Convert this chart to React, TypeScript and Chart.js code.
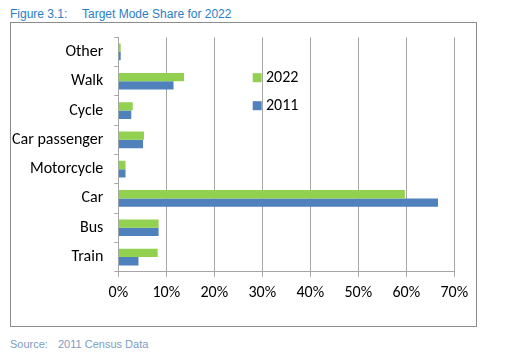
import React, { useEffect, useRef } from "react";
import { Chart, registerables } from "chart.js";

Chart.register(...registerables);

const categories = ["Other", "Walk", "Cycle", "Car passenger", "Motorcycle", "Car", "Bus", "Train"];
const share2022 = [0.5, 13.7, 3.0, 5.35, 1.5, 59.7, 8.4, 8.2];
const share2011 = [0.5, 11.5, 2.7, 5.15, 1.5, 66.6, 8.4, 4.2];
const xTicks = [0, 10, 20, 30, 40, 50, 60, 70];
const seriesNames = ["2022", "2011"];
const seriesColors = ["#92d050", "#4f81bd"];

const FONT = "Carlito, Lato, 'Open Sans', sans-serif";

const legendPlugin = {
  id: "insideLegend",
  afterDraw(chart: any) {
    const ctx = chart.ctx;
    const area = chart.chartArea;
    const x0 = area.left + 134.4;
    const ys = [area.top + 40.4, area.top + 68.4];
    ctx.save();
    ctx.font = `16px ${FONT}`;
    ctx.textBaseline = "middle";
    ctx.textAlign = "left";
    seriesNames.forEach((name, i) => {
      ctx.fillStyle = seriesColors[i];
      ctx.fillRect(x0, ys[i] - 4.5, 9, 9);
      ctx.fillStyle = "#000";
      ctx.fillText(name, x0 + 13.3, ys[i]);
    });
    ctx.restore();
  },
};

export default function App() {
  const canvasRef = useRef<HTMLCanvasElement | null>(null);

  useEffect(() => {
    if (!canvasRef.current) return;
    const chart = new Chart(canvasRef.current, {
      type: "bar",
      data: {
        labels: categories,
        datasets: [
          {
            label: seriesNames[0],
            data: share2022,
            backgroundColor: seriesColors[0],
            borderWidth: 0,
          },
          {
            label: seriesNames[1],
            data: share2011,
            backgroundColor: seriesColors[1],
            borderWidth: 0,
          },
        ],
      },
      options: {
        indexAxis: "y",
        animation: false,
        responsive: false,
        maintainAspectRatio: false,
        datasets: { bar: { categoryPercentage: 0.57, barPercentage: 1.0 } },
        layout: { padding: { left: 0, top: 14.3, right: 21.7, bottom: 0 } },
        plugins: {
          legend: { display: false },
          tooltip: { enabled: false },
          title: { display: false },
        },
        scales: {
          x: {
            type: "linear",
            min: 0,
            max: 70,
            afterBuildTicks: (scale: any) => {
              scale.ticks = xTicks.map((v) => ({ value: v }));
            },
            afterFit: (scale: any) => {
              scale.height = 54.3;
              scale.paddingLeft = 0;
              scale.paddingRight = 0;
            },
            grid: {
              color: "#a6a6a6",
              lineWidth: 1,
              tickLength: 5,
              drawTicks: true,
            },
            border: { display: true, color: "#a6a6a6", width: 1 },
            ticks: {
              color: "#000",
              padding: 7,
              font: { family: FONT, size: 16 },
              callback: (v: any) => `${v}%`,
            },
          },
          y: {
            afterFit: (scale: any) => {
              scale.width = 107.3;
              scale.paddingTop = 0;
              scale.paddingBottom = 0;
            },
            grid: {
              display: true,
              drawOnChartArea: false,
              offset: true,
              color: "#a6a6a6",
              tickLength: 4,
            },
            border: { display: true, color: "#a6a6a6", width: 1 },
            ticks: {
              color: "#000",
              padding: 11,
              font: { family: FONT, size: 16 },
            },
          },
        },
      },
      plugins: [legendPlugin],
    });
    return () => chart.destroy();
  }, []);

  const titleStyle: React.CSSProperties = {
    position: "absolute",
    top: 7,
    fontFamily: "'Liberation Sans', Arial, sans-serif",
    fontSize: 12,
    lineHeight: "14px",
    color: "#2a7ec6",
    whiteSpace: "nowrap",
  };
  const sourceStyle: React.CSSProperties = {
    position: "absolute",
    top: 337,
    fontFamily: "'Liberation Sans', Arial, sans-serif",
    fontSize: 11,
    lineHeight: "14px",
    color: "#7d9cc0",
    whiteSpace: "nowrap",
  };

  return (
    <div
      style={{
        position: "absolute",
        left: 0,
        top: 0,
        width: 513,
        height: 358,
        background: "#fff",
        overflow: "hidden",
      }}
    >
      <span style={{ ...titleStyle, left: 10 }}>Figure 3.1:</span>
      <span style={{ ...titleStyle, left: 82 }}>Target Mode Share for 2022</span>
      <div
        style={{
          position: "absolute",
          left: 10,
          top: 22,
          width: 467,
          height: 305,
          border: "1.5px solid #8c8c8c",
          boxSizing: "border-box",
        }}
      />
      <canvas
        ref={canvasRef}
        width={465}
        height={303}
        style={{ position: "absolute", left: 11, top: 23, width: 465, height: 303 }}
      />
      <span style={{ ...sourceStyle, left: 10 }}>Source:</span>
      <span style={{ ...sourceStyle, left: 58 }}>2011 Census Data</span>
    </div>
  );
}
